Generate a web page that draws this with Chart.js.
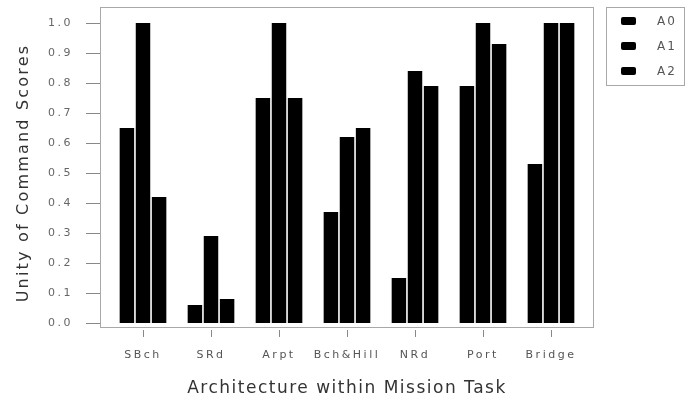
<!DOCTYPE html>
<html>
<head>
<meta charset="utf-8">
<script src="https://cdn.jsdelivr.net/npm/chart.js@4.4.0/dist/chart.umd.min.js"></script>
<style>
html,body{margin:0;padding:0;background:#fff;}
</style>
</head>
<body>
<canvas id="c" width="686" height="403"></canvas>
<script>
const categories = ["SBch", "SRd", "Arpt", "Bch&Hill", "NRd", "Port", "Bridge"];
const seriesNames = ["A0", "A1", "A2"];
const a0 = [0.65, 0.06, 0.75, 0.37, 0.15, 0.79, 0.53];
const a1 = [1.00, 0.29, 1.00, 0.62, 0.84, 1.00, 1.00];
const a2 = [0.42, 0.08, 0.75, 0.65, 0.79, 0.93, 1.00];
const yTicks = [0.0, 0.1, 0.2, 0.3, 0.4, 0.5, 0.6, 0.7, 0.8, 0.9, 1.0];
const xTitle = "Architecture within Mission Task";
const yTitle = "Unity of Command Scores";

const FONT = "'DejaVu Sans', sans-serif";
const FRAME = '#a8a8a8';

const decor = {
  id: 'decor',
  beforeDraw(chart) {
    chart.ctx.letterSpacing = '2.5px';
  },
  afterDraw(chart) {
    const ctx = chart.ctx;
    const x = chart.scales.x, y = chart.scales.y;
    ctx.save();
    ctx.letterSpacing = '0px';
    // frame
    const fl = 100.5, fr = 593.5, ft = 7.5, fb = 327.5;
    ctx.strokeStyle = FRAME;
    ctx.lineWidth = 1;
    ctx.strokeRect(fl, ft, fr - fl, fb - ft);
    // y ticks
    ctx.strokeStyle = '#888';
    yTicks.forEach(v => {
      const py = Math.round(y.getPixelForValue(v)) + 0.5;
      ctx.beginPath(); ctx.moveTo(86, py); ctx.lineTo(100, py); ctx.stroke();
    });
    // x ticks
    categories.forEach((c, i) => {
      const px = Math.round(x.getPixelForValue(i)) + 0.5;
      ctx.beginPath(); ctx.moveTo(px, 330); ctx.lineTo(px, 337); ctx.stroke();
    });
    // titles
    ctx.fillStyle = '#333';
    ctx.textAlign = 'center';
    ctx.textBaseline = 'middle';
    ctx.font = '17px ' + FONT;
    ctx.letterSpacing = '1.5px';
    ctx.fillText(xTitle, 347, 389);
    ctx.save();
    ctx.translate(24, 173);
    ctx.rotate(-Math.PI / 2);
    ctx.font = '16px ' + FONT;
    ctx.letterSpacing = '2.2px';
    ctx.fillText(yTitle, 0, 0);
    ctx.restore();
    // legend
    ctx.strokeStyle = FRAME;
    ctx.strokeRect(606.5, 7.5, 78, 78);
    const ly = [21, 46, 71];
    chart.data.datasets.forEach((ds, i) => {
      ctx.fillStyle = '#000';
      ctx.beginPath();
      if (ctx.roundRect) ctx.roundRect(621, ly[i] - 4, 15, 8, 2); else ctx.rect(621, ly[i] - 4, 15, 8);
      ctx.fill();
      ctx.fillStyle = '#555';
      ctx.font = '12px ' + FONT;
      ctx.letterSpacing = '2px';
      ctx.textAlign = 'left';
      ctx.fillText(ds.label, 657, ly[i] + 1);
    });
    ctx.restore();
  }
};

new Chart(document.getElementById('c'), {
  type: 'bar',
  data: {
    labels: categories,
    datasets: [
      { label: seriesNames[0], data: a0, backgroundColor: '#000' },
      { label: seriesNames[1], data: a1, backgroundColor: '#000' },
      { label: seriesNames[2], data: a2, backgroundColor: '#000' }
    ]
  },
  options: {
    responsive: false,
    animation: false,
    layout: { padding: { top: 7, right: 101, left: 0, bottom: 0 } },
    plugins: { legend: { display: false }, tooltip: { enabled: false } },
    datasets: { bar: { categoryPercentage: 0.71, barPercentage: 0.9 } },
    scales: {
      x: {
        type: 'category',
        offset: true,
        grid: { display: false, drawTicks: false },
        border: { display: false },
        ticks: { color: '#555', font: { family: FONT, size: 11 }, padding: 22, maxRotation: 0, autoSkip: false },
        afterFit(s) { s.height = 76; s.paddingLeft = 0; s.paddingRight = 0; }
      },
      y: {
        type: 'linear',
        min: -4 / 300,
        max: 1 + 16 / 300,
        grid: { display: false, drawTicks: false },
        border: { display: false },
        afterBuildTicks(s) { s.ticks = yTicks.map(v => ({ value: v })); },
        ticks: { color: '#666', font: { family: FONT, size: 11 }, padding: 36,
                 callback: v => Number(v).toFixed(1) },
        afterFit(s) { s.width = 109; s.paddingTop = 0; s.paddingBottom = 0; }
      }
    }
  },
  plugins: [decor]
});
</script>
</body>
</html>
